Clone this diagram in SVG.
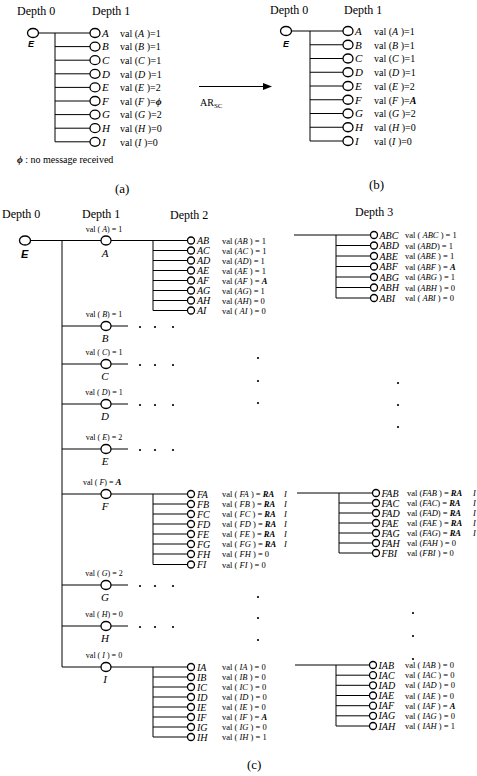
<svg xmlns="http://www.w3.org/2000/svg" width="477" height="776" viewBox="0 0 477 776">
<style>
.s{font-family:"Liberation Serif","Times New Roman",serif;fill:#000}
.i{font-style:italic}
.x{font-style:italic;font-weight:bold}
.e{font-family:"Liberation Sans",Arial,sans-serif;font-weight:bold;font-style:italic;fill:#000}
.f13{font-size:13px}.f12{font-size:12px}.f11{font-size:11px}.f10{font-size:10px}.f9{font-size:8.5px}.f8{font-size:8px}
.n{fill:#fff;stroke:#000;stroke-width:1.3}
#connectors path{stroke:#000;stroke-width:1;fill:none}
.d{fill:#000}
</style>
<rect width="477" height="776" fill="#fff"/>
<g id="connectors">
<path d="M38.5 33H90M55 33V141.8M55 46.6H90M55 60.2H90M55 73.8H90M55 87.4H90M55 101H90M55 114.6H90M55 128.2H90M55 141.8H90"/>
<path d="M291.5 31H343M310 31V141M310 44.75H343M310 58.5H343M310 72.25H343M310 86H343M310 99.75H343M310 113.5H343M310 127.25H343M310 141H343"/>
<path d="M199 86.5H264"/>
<path d="M30 240.5H101M111 240.5H187.5M62 240.5V667M62 326H101M111 326H128M62 364H101M111 364H128M62 404H101M111 404H128M62 449H101M111 449H128M62 494H101M111 494H187.5M62 585H101M111 585H128M62 626H101M111 626H128M62 667H101M111 667H187.5"/>
<path d="M153 240.5V310.5M153 250.5H187.5M153 260.5H187.5M153 270.5H187.5M153 280.5H187.5M153 290.5H187.5M153 300.5H187.5M153 310.5H187.5"/>
<path d="M153 494V564.5M153 504H187.5M153 514H187.5M153 524H187.5M153 534H187.5M153 544H187.5M153 554H187.5M153 564.5H187.5"/>
<path d="M153 667V737M153 677H187.5M153 687H187.5M153 697H187.5M153 707H187.5M153 717H187.5M153 727H187.5M153 737H187.5"/>
<path d="M294 235H370.5M336 235V298M336 245.5H370.5M336 256H370.5M336 266.5H370.5M336 277H370.5M336 287.5H370.5M336 298H370.5"/>
<path d="M297 493H372.5M339 493V553M339 503H372.5M339 513H372.5M339 523H372.5M339 533H372.5M339 543H372.5M339 553H372.5"/>
<path d="M295 665H369.5M336 665V726M336 675.2H369.5M336 685.3H369.5M336 695.5H369.5M336 705.7H369.5M336 715.8H369.5M336 726H369.5"/>
<polygon class="d" points="272,86.5 263,83 263,90"/>
<text class="s f10" x="200" y="106">AR<tspan font-size="7" dy="2">SC</tspan></text>
</g>

<!-- (a) -->
<text class="s f12" x="17" y="15">Depth 0</text>
<text class="s f12" x="92" y="15">Depth 1</text>
<g id="a-E0"><ellipse class="n" cx="33" cy="33" rx="5.5" ry="4.5"/><text class="e" font-size="9" x="28" y="47">E</text></g>
<g id="a-A"><ellipse class="n" cx="95" cy="33" rx="5" ry="4.5"/><text class="s i f11" x="102" y="36.8">A</text><text class="s f10" x="120" y="36.8">val (<tspan class="i">A</tspan> )=1</text></g>
<g id="a-B"><ellipse class="n" cx="95" cy="46.6" rx="5" ry="4.5"/><text class="s i f11" x="102" y="50.4">B</text><text class="s f10" x="120" y="50.4">val (<tspan class="i">B</tspan> )=1</text></g>
<g id="a-C"><ellipse class="n" cx="95" cy="60.2" rx="5" ry="4.5"/><text class="s i f11" x="102" y="64">C</text><text class="s f10" x="120" y="64">val (<tspan class="i">C</tspan> )=1</text></g>
<g id="a-D"><ellipse class="n" cx="95" cy="73.8" rx="5" ry="4.5"/><text class="s i f11" x="102" y="77.6">D</text><text class="s f10" x="120" y="77.6">val (<tspan class="i">D</tspan> )=1</text></g>
<g id="a-E"><ellipse class="n" cx="95" cy="87.4" rx="5" ry="4.5"/><text class="s i f11" x="102" y="91.2">E</text><text class="s f10" x="120" y="91.2">val (<tspan class="i">E</tspan> )=2</text></g>
<g id="a-F"><ellipse class="n" cx="95" cy="101" rx="5" ry="4.5"/><text class="s i f11" x="102" y="104.8">F</text><text class="s f10" x="120" y="104.8">val (<tspan class="i">F</tspan> )=<tspan class="x">ϕ</tspan></text></g>
<g id="a-G"><ellipse class="n" cx="95" cy="114.6" rx="5" ry="4.5"/><text class="s i f11" x="102" y="118.4">G</text><text class="s f10" x="120" y="118.4">val (<tspan class="i">G</tspan> )=2</text></g>
<g id="a-H"><ellipse class="n" cx="95" cy="128.2" rx="5" ry="4.5"/><text class="s i f11" x="102" y="132">H</text><text class="s f10" x="120" y="132">val (<tspan class="i">H</tspan> )=0</text></g>
<g id="a-I"><ellipse class="n" cx="95" cy="141.8" rx="5" ry="4.5"/><text class="s i f11" x="102" y="145.6">I</text><text class="s f10" x="120" y="145.6">val (<tspan class="i">I</tspan> )=0</text></g>
<text class="s f10" x="17" y="163"><tspan class="x">ϕ</tspan> : no message received</text>
<text class="s f13" x="115" y="193">(a)</text>

<!-- (b) -->
<text class="s f12" x="270" y="14">Depth 0</text>
<text class="s f12" x="344" y="14">Depth 1</text>
<g id="b-E0"><ellipse class="n" cx="286" cy="31" rx="5.5" ry="4.5"/><text class="e" font-size="9" x="283" y="47">E</text></g>
<g id="b-A"><ellipse class="n" cx="348" cy="31" rx="5" ry="4.5"/><text class="s i f11" x="355" y="34.8">A</text><text class="s f10" x="374" y="34.8">val (<tspan class="i">A</tspan> )=1</text></g>
<g id="b-B"><ellipse class="n" cx="348" cy="44.75" rx="5" ry="4.5"/><text class="s i f11" x="355" y="48.5">B</text><text class="s f10" x="374" y="48.5">val (<tspan class="i">B</tspan> )=1</text></g>
<g id="b-C"><ellipse class="n" cx="348" cy="58.5" rx="5" ry="4.5"/><text class="s i f11" x="355" y="62.3">C</text><text class="s f10" x="374" y="62.3">val (<tspan class="i">C</tspan> )=1</text></g>
<g id="b-D"><ellipse class="n" cx="348" cy="72.25" rx="5" ry="4.5"/><text class="s i f11" x="355" y="76">D</text><text class="s f10" x="374" y="76">val (<tspan class="i">D</tspan> )=1</text></g>
<g id="b-E"><ellipse class="n" cx="348" cy="86" rx="5" ry="4.5"/><text class="s i f11" x="355" y="89.8">E</text><text class="s f10" x="374" y="89.8">val (<tspan class="i">E</tspan> )=2</text></g>
<g id="b-F"><ellipse class="n" cx="348" cy="99.75" rx="5" ry="4.5"/><text class="s i f11" x="355" y="103.5">F</text><text class="s f10" x="374" y="103.5">val (<tspan class="i">F</tspan> )=<tspan class="x">A</tspan></text></g>
<g id="b-G"><ellipse class="n" cx="348" cy="113.5" rx="5" ry="4.5"/><text class="s i f11" x="355" y="117.3">G</text><text class="s f10" x="374" y="117.3">val (<tspan class="i">G</tspan> )=2</text></g>
<g id="b-H"><ellipse class="n" cx="348" cy="127.25" rx="5" ry="4.5"/><text class="s i f11" x="355" y="131">H</text><text class="s f10" x="374" y="131">val (<tspan class="i">H</tspan> )=0</text></g>
<g id="b-I"><ellipse class="n" cx="348" cy="141" rx="5" ry="4.5"/><text class="s i f11" x="355" y="144.8">I</text><text class="s f10" x="374" y="144.8">val (<tspan class="i">I</tspan> )=0</text></g>
<text class="s f13" x="369" y="189">(b)</text>

<!-- (c) -->
<text class="s f12" x="2" y="218">Depth 0</text>
<text class="s f12" x="82" y="218">Depth 1</text>
<text class="s f12" x="170" y="219">Depth 2</text>
<text class="s f12" x="355" y="216">Depth 3</text>
<g id="c-E0"><ellipse class="n" cx="25" cy="240.5" rx="5.5" ry="4.5"/><text class="e" font-size="11" x="21" y="258">E</text></g>

<g id="c-A"><ellipse class="n" cx="106" cy="240.5" rx="5" ry="4.5"/><text class="s f8" x="104" y="231.5" text-anchor="middle">val ( <tspan class="i">A</tspan>) = 1</text><text class="s i f11" x="105" y="256.5" text-anchor="middle">A</text></g>
<g id="c-B"><ellipse class="n" cx="106" cy="326" rx="5" ry="4.5"/><text class="s f8" x="104" y="317" text-anchor="middle">val ( <tspan class="i">B</tspan>) = 1</text><text class="s i f11" x="105" y="342" text-anchor="middle">B</text></g>
<g id="c-C"><ellipse class="n" cx="106" cy="364" rx="5" ry="4.5"/><text class="s f8" x="104" y="355" text-anchor="middle">val ( <tspan class="i">C</tspan>) = 1</text><text class="s i f11" x="105" y="380" text-anchor="middle">C</text></g>
<g id="c-D"><ellipse class="n" cx="106" cy="404" rx="5" ry="4.5"/><text class="s f8" x="104" y="395" text-anchor="middle">val ( <tspan class="i">D</tspan>) = 1</text><text class="s i f11" x="105" y="420" text-anchor="middle">D</text></g>
<g id="c-E"><ellipse class="n" cx="106" cy="449" rx="5" ry="4.5"/><text class="s f8" x="104" y="440" text-anchor="middle">val ( <tspan class="i">E</tspan>) = 2</text><text class="s i f11" x="105" y="465" text-anchor="middle">E</text></g>
<g id="c-F"><ellipse class="n" cx="106" cy="494" rx="5" ry="4.5"/><text class="s f8" x="83" y="485">val ( <tspan class="i">F</tspan>) =  <tspan class="x" font-size="9">A</tspan></text><text class="s i f11" x="105" y="510" text-anchor="middle">F</text></g>
<g id="c-G"><ellipse class="n" cx="106" cy="585" rx="5" ry="4.5"/><text class="s f8" x="104" y="576" text-anchor="middle">val ( <tspan class="i">G</tspan>) = 2</text><text class="s i f11" x="105" y="601" text-anchor="middle">G</text></g>
<g id="c-H"><ellipse class="n" cx="106" cy="626" rx="5" ry="4.5"/><text class="s f8" x="104" y="617" text-anchor="middle">val ( <tspan class="i">H</tspan>) = 0</text><text class="s i f11" x="105" y="642" text-anchor="middle">H</text></g>
<g id="c-I"><ellipse class="n" cx="106" cy="667" rx="5" ry="4.5"/><text class="s f8" x="104" y="658" text-anchor="middle">val ( <tspan class="i">I</tspan> ) = 0</text><text class="s i f11" x="105" y="683" text-anchor="middle">I</text></g>

<g id="dots">
<circle class="d" cx="140" cy="327" r="1.1"/><circle class="d" cx="155" cy="327" r="1.1"/><circle class="d" cx="173" cy="327" r="1.1"/>
<circle class="d" cx="140" cy="365" r="1.1"/><circle class="d" cx="155" cy="365" r="1.1"/><circle class="d" cx="173" cy="365" r="1.1"/>
<circle class="d" cx="140" cy="405" r="1.1"/><circle class="d" cx="155" cy="405" r="1.1"/><circle class="d" cx="173" cy="405" r="1.1"/>
<circle class="d" cx="140" cy="450" r="1.1"/><circle class="d" cx="155" cy="450" r="1.1"/><circle class="d" cx="173" cy="450" r="1.1"/>
<circle class="d" cx="140" cy="586" r="1.1"/><circle class="d" cx="155" cy="586" r="1.1"/><circle class="d" cx="173" cy="586" r="1.1"/>
<circle class="d" cx="140" cy="627" r="1.1"/><circle class="d" cx="155" cy="627" r="1.1"/><circle class="d" cx="173" cy="627" r="1.1"/>
<circle class="d" cx="258" cy="358" r="1.1"/><circle class="d" cx="258" cy="381" r="1.1"/><circle class="d" cx="258" cy="403" r="1.1"/>
<circle class="d" cx="398" cy="383" r="1.1"/><circle class="d" cx="398" cy="405" r="1.1"/><circle class="d" cx="398" cy="427" r="1.1"/>
<circle class="d" cx="258" cy="597" r="1.1"/><circle class="d" cx="258" cy="618" r="1.1"/><circle class="d" cx="258" cy="640" r="1.1"/>
<circle class="d" cx="413" cy="613" r="1.1"/><circle class="d" cx="413" cy="636" r="1.1"/><circle class="d" cx="413" cy="659" r="1.1"/>
</g>

<!-- depth 2, A -->
<g id="c-AB"><circle class="n" cx="191" cy="240.5" r="3.5"/><text class="s i f10" x="197" y="244">AB</text><text class="s f9" x="222" y="243.5">val (<tspan class="i">AB</tspan> ) = 1</text></g>
<g id="c-AC"><circle class="n" cx="191" cy="250.5" r="3.5"/><text class="s i f10" x="197" y="254">AC</text><text class="s f9" x="222" y="253.5">val (<tspan class="i">AC</tspan> ) = 1</text></g>
<g id="c-AD"><circle class="n" cx="191" cy="260.5" r="3.5"/><text class="s i f10" x="197" y="264">AD</text><text class="s f9" x="222" y="263.5">val (<tspan class="i">AD</tspan>) = 1</text></g>
<g id="c-AE"><circle class="n" cx="191" cy="270.5" r="3.5"/><text class="s i f10" x="197" y="274">AE</text><text class="s f9" x="222" y="273.5">val (<tspan class="i">AE</tspan> ) = 1</text></g>
<g id="c-AF"><circle class="n" cx="191" cy="280.5" r="3.5"/><text class="s i f10" x="197" y="284">AF</text><text class="s f9" x="222" y="283.5">val (<tspan class="i">AF</tspan> ) = <tspan class="x">A</tspan></text></g>
<g id="c-AG"><circle class="n" cx="191" cy="290.5" r="3.5"/><text class="s i f10" x="197" y="294">AG</text><text class="s f9" x="222" y="293.5">val (<tspan class="i">AG</tspan>) = 1</text></g>
<g id="c-AH"><circle class="n" cx="191" cy="300.5" r="3.5"/><text class="s i f10" x="197" y="304">AH</text><text class="s f9" x="222" y="303.5">val (<tspan class="i">AH</tspan>) = 0</text></g>
<g id="c-AI"><circle class="n" cx="191" cy="310.5" r="3.5"/><text class="s i f10" x="197" y="314">AI</text><text class="s f9" x="222" y="313.5">val ( <tspan class="i">AI</tspan> ) = 0</text></g>

<!-- depth 3, AB -->
<g id="c-ABC"><circle class="n" cx="374" cy="235" r="3.5"/><text class="s i f10" x="379.5" y="238.5">ABC</text><text class="s f9" x="405" y="238">val ( <tspan class="i">ABC</tspan> ) = 1</text></g>
<g id="c-ABD"><circle class="n" cx="374" cy="245.5" r="3.5"/><text class="s i f10" x="379.5" y="249">ABD</text><text class="s f9" x="405" y="248.5">val (<tspan class="i">ABD</tspan>) = 1</text></g>
<g id="c-ABE"><circle class="n" cx="374" cy="256" r="3.5"/><text class="s i f10" x="379.5" y="259.5">ABE</text><text class="s f9" x="405" y="259">val (<tspan class="i">ABE</tspan> ) = 1</text></g>
<g id="c-ABF"><circle class="n" cx="374" cy="266.5" r="3.5"/><text class="s i f10" x="379.5" y="270">ABF</text><text class="s f9" x="405" y="269.5">val (<tspan class="i">ABF</tspan> ) = <tspan class="x">A</tspan></text></g>
<g id="c-ABG"><circle class="n" cx="374" cy="277" r="3.5"/><text class="s i f10" x="379.5" y="280.5">ABG</text><text class="s f9" x="405" y="280">val (<tspan class="i">ABG</tspan> ) = 1</text></g>
<g id="c-ABH"><circle class="n" cx="374" cy="287.5" r="3.5"/><text class="s i f10" x="379.5" y="291">ABH</text><text class="s f9" x="405" y="290.5">val (<tspan class="i">ABH</tspan> ) = 0</text></g>
<g id="c-ABI"><circle class="n" cx="374" cy="298" r="3.5"/><text class="s i f10" x="379.5" y="301.5">ABI</text><text class="s f9" x="405" y="301">val ( <tspan class="i">ABI</tspan> ) = 0</text></g>

<!-- depth 2, F -->
<g id="c-FA"><circle class="n" cx="191" cy="494" r="3.5"/><text class="s i f10" x="197" y="497.5">FA</text><text class="s f9" x="222" y="497">val ( <tspan class="i">FA</tspan> ) = <tspan class="x">RA</tspan><tspan class="i" x="284">I</tspan></text></g>
<g id="c-FB"><circle class="n" cx="191" cy="504" r="3.5"/><text class="s i f10" x="197" y="507.5">FB</text><text class="s f9" x="222" y="507">val ( <tspan class="i">FB</tspan> ) = <tspan class="x">RA</tspan><tspan class="i" x="284">I</tspan></text></g>
<g id="c-FC"><circle class="n" cx="191" cy="514" r="3.5"/><text class="s i f10" x="197" y="517.5">FC</text><text class="s f9" x="222" y="517">val ( <tspan class="i">FC</tspan> ) = <tspan class="x">RA</tspan><tspan class="i" x="284">I</tspan></text></g>
<g id="c-FD"><circle class="n" cx="191" cy="524" r="3.5"/><text class="s i f10" x="197" y="527.5">FD</text><text class="s f9" x="222" y="527">val ( <tspan class="i">FD</tspan> ) = <tspan class="x">RA</tspan><tspan class="i" x="284">I</tspan></text></g>
<g id="c-FE"><circle class="n" cx="191" cy="534" r="3.5"/><text class="s i f10" x="197" y="537.5">FE</text><text class="s f9" x="222" y="537">val ( <tspan class="i">FE</tspan> ) = <tspan class="x">RA</tspan><tspan class="i" x="284">I</tspan></text></g>
<g id="c-FG"><circle class="n" cx="191" cy="544" r="3.5"/><text class="s i f10" x="197" y="547.5">FG</text><text class="s f9" x="222" y="547">val ( <tspan class="i">FG</tspan> ) = <tspan class="x">RA</tspan><tspan class="i" x="284">I</tspan></text></g>
<g id="c-FH"><circle class="n" cx="191" cy="554" r="3.5"/><text class="s i f10" x="197" y="557.5">FH</text><text class="s f9" x="222" y="557">val ( <tspan class="i">FH</tspan> ) = 0</text></g>
<g id="c-FI"><circle class="n" cx="191" cy="564.5" r="3.5"/><text class="s i f10" x="197" y="568">FI</text><text class="s f9" x="222" y="567.5">val ( <tspan class="i">FI</tspan> ) = 0</text></g>

<!-- depth 3, FA -->
<g id="c-FAB"><circle class="n" cx="376" cy="493" r="3.5"/><text class="s i f10" x="381.5" y="496.5">FAB</text><text class="s f9" x="407" y="496">val (<tspan class="i">FAB</tspan> ) = <tspan class="x">RA</tspan><tspan class="i" x="473">I</tspan></text></g>
<g id="c-FAC"><circle class="n" cx="376" cy="503" r="3.5"/><text class="s i f10" x="381.5" y="506.5">FAC</text><text class="s f9" x="407" y="506">val (<tspan class="i">FAC</tspan>) = <tspan class="x">RA</tspan><tspan class="i" x="473">I</tspan></text></g>
<g id="c-FAD"><circle class="n" cx="376" cy="513" r="3.5"/><text class="s i f10" x="381.5" y="516.5">FAD</text><text class="s f9" x="407" y="516">val (<tspan class="i">FAD</tspan>) = <tspan class="x">RA</tspan><tspan class="i" x="473">I</tspan></text></g>
<g id="c-FAE"><circle class="n" cx="376" cy="523" r="3.5"/><text class="s i f10" x="381.5" y="526.5">FAE</text><text class="s f9" x="407" y="526">val (<tspan class="i">FAE</tspan> ) = <tspan class="x">RA</tspan><tspan class="i" x="473">I</tspan></text></g>
<g id="c-FAG"><circle class="n" cx="376" cy="533" r="3.5"/><text class="s i f10" x="381.5" y="536.5">FAG</text><text class="s f9" x="407" y="536">val (<tspan class="i">FAG</tspan>) = <tspan class="x">RA</tspan><tspan class="i" x="473">I</tspan></text></g>
<g id="c-FAH"><circle class="n" cx="376" cy="543" r="3.5"/><text class="s i f10" x="381.5" y="546.5">FAH</text><text class="s f9" x="407" y="546">val (<tspan class="i">FAH</tspan> ) = 0</text></g>
<g id="c-FBI"><circle class="n" cx="376" cy="553" r="3.5"/><text class="s i f10" x="381.5" y="556.5">FBI</text><text class="s f9" x="407" y="556">val (<tspan class="i">FBI</tspan> ) = 0</text></g>

<!-- depth 2, I -->
<g id="c-IA"><circle class="n" cx="191" cy="667" r="3.5"/><text class="s i f10" x="197" y="670.5">IA</text><text class="s f9" x="222" y="670">val ( <tspan class="i">IA</tspan>  ) = 0</text></g>
<g id="c-IB"><circle class="n" cx="191" cy="677" r="3.5"/><text class="s i f10" x="197" y="680.5">IB</text><text class="s f9" x="222" y="680">val ( <tspan class="i">IB</tspan>  ) = 0</text></g>
<g id="c-IC"><circle class="n" cx="191" cy="687" r="3.5"/><text class="s i f10" x="197" y="690.5">IC</text><text class="s f9" x="222" y="690">val ( <tspan class="i">IC</tspan>  ) = 0</text></g>
<g id="c-ID"><circle class="n" cx="191" cy="697" r="3.5"/><text class="s i f10" x="197" y="700.5">ID</text><text class="s f9" x="222" y="700">val ( <tspan class="i">ID</tspan>  ) = 0</text></g>
<g id="c-IE"><circle class="n" cx="191" cy="707" r="3.5"/><text class="s i f10" x="197" y="710.5">IE</text><text class="s f9" x="222" y="710">val ( <tspan class="i">IE</tspan>  ) = 0</text></g>
<g id="c-IF"><circle class="n" cx="191" cy="717" r="3.5"/><text class="s i f10" x="197" y="720.5">IF</text><text class="s f9" x="222" y="720">val ( <tspan class="i">IF</tspan>  ) = <tspan class="x">A</tspan></text></g>
<g id="c-IG"><circle class="n" cx="191" cy="727" r="3.5"/><text class="s i f10" x="197" y="730.5">IG</text><text class="s f9" x="222" y="730">val ( <tspan class="i">IG</tspan>  ) = 0</text></g>
<g id="c-IH"><circle class="n" cx="191" cy="737" r="3.5"/><text class="s i f10" x="197" y="740.5">IH</text><text class="s f9" x="222" y="740">val ( <tspan class="i">IH</tspan>  ) = 1</text></g>

<!-- depth 3, IA -->
<g id="c-IAB"><circle class="n" cx="373" cy="665" r="3.5"/><text class="s i f10" x="378.5" y="668.5">IAB</text><text class="s f9" x="405" y="668">val ( <tspan class="i">IAB</tspan>  ) = 0</text></g>
<g id="c-IAC"><circle class="n" cx="373" cy="675.2" r="3.5"/><text class="s i f10" x="378.5" y="678.7">IAC</text><text class="s f9" x="405" y="678.2">val ( <tspan class="i">IAC</tspan>  ) = 0</text></g>
<g id="c-IAD"><circle class="n" cx="373" cy="685.3" r="3.5"/><text class="s i f10" x="378.5" y="688.8">IAD</text><text class="s f9" x="405" y="688.3">val ( <tspan class="i">IAD</tspan>  ) = 0</text></g>
<g id="c-IAE"><circle class="n" cx="373" cy="695.5" r="3.5"/><text class="s i f10" x="378.5" y="699">IAE</text><text class="s f9" x="405" y="698.5">val ( <tspan class="i">IAE</tspan>  ) = 0</text></g>
<g id="c-IAF"><circle class="n" cx="373" cy="705.7" r="3.5"/><text class="s i f10" x="378.5" y="709.2">IAF</text><text class="s f9" x="405" y="708.7">val ( <tspan class="i">IAF</tspan>  ) = <tspan class="x">A</tspan></text></g>
<g id="c-IAG"><circle class="n" cx="373" cy="715.8" r="3.5"/><text class="s i f10" x="378.5" y="719.3">IAG</text><text class="s f9" x="405" y="718.8">val ( <tspan class="i">IAG</tspan> ) = 0</text></g>
<g id="c-IAH"><circle class="n" cx="373" cy="726" r="3.5"/><text class="s i f10" x="378.5" y="729.5">IAH</text><text class="s f9" x="405" y="729">val ( <tspan class="i">IAH</tspan> ) = 1</text></g>

<text class="s f13" x="247" y="769">(c)</text>
</svg>
